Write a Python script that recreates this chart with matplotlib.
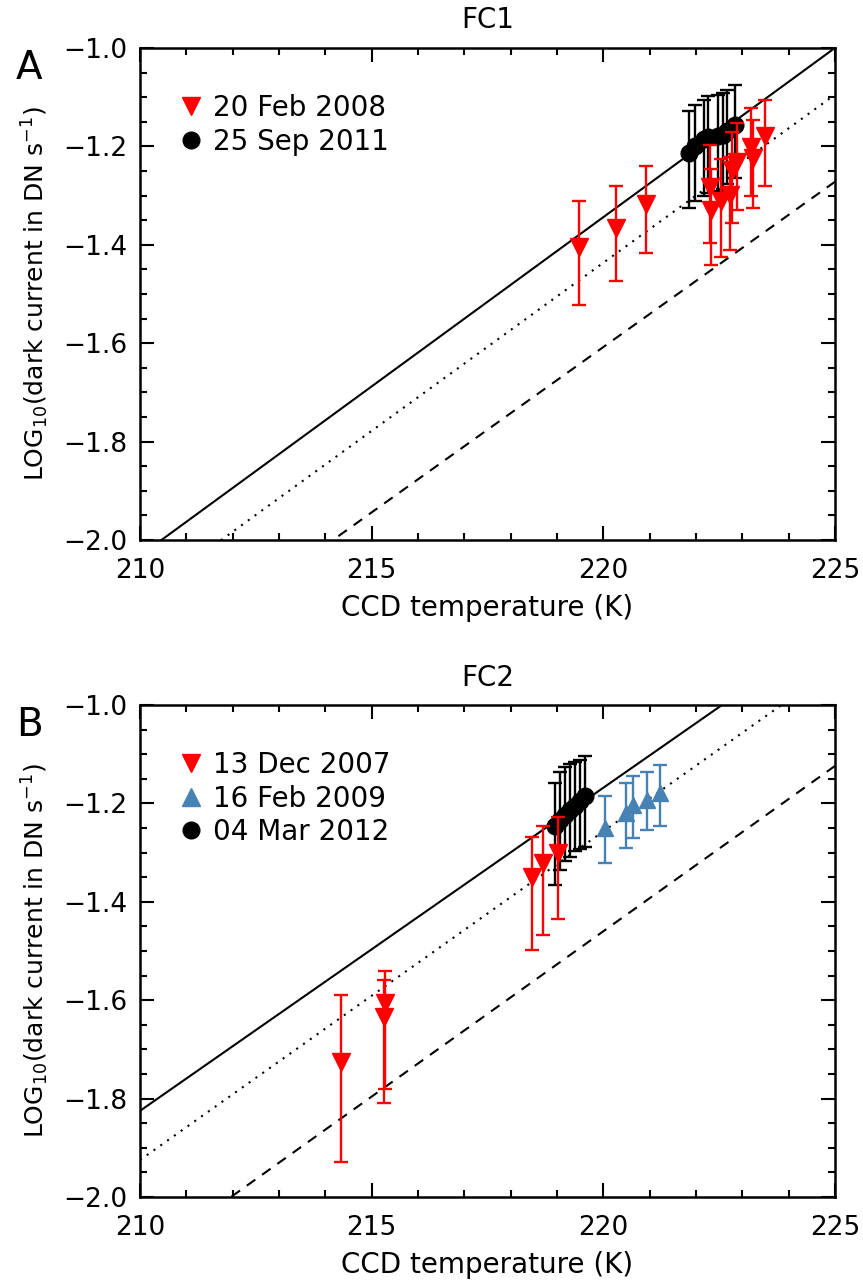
import matplotlib
matplotlib.use("Agg")
import matplotlib.pyplot as plt
from matplotlib.lines import Line2D
from matplotlib.ticker import MultipleLocator, FuncFormatter

plt.rcParams['font.family'] = ['DejaVu Sans']
plt.rcParams['mathtext.default'] = 'regular'

# ---- FC1 ----
# 20 Feb 2008 (red, down triangles)
fc1_feb08_temp = [219.47, 220.28, 220.93, 222.30, 222.33, 222.55, 222.74, 222.78, 222.89, 223.19, 223.23, 223.48]
fc1_feb08_log = [-1.404, -1.366, -1.317, -1.283, -1.329, -1.312, -1.299, -1.248, -1.231, -1.201, -1.224, -1.180]
fc1_feb08_lo = [0.119, 0.107, 0.100, 0.114, 0.112, 0.113, 0.112, 0.107, 0.098, 0.099, 0.102, 0.100]
fc1_feb08_hi = [0.093, 0.086, 0.077, 0.086, 0.082, 0.086, 0.078, 0.078, 0.079, 0.078, 0.078, 0.074]

# 25 Sep 2011 (black circles)
fc1_sep11_temp = [221.84, 221.98, 222.17, 222.25, 222.48, 222.58, 222.66, 222.85]
fc1_sep11_log = [-1.214, -1.200, -1.185, -1.182, -1.180, -1.176, -1.168, -1.157]
fc1_sep11_lo = [0.112, 0.112, 0.115, 0.112, 0.110, 0.110, 0.108, 0.108]
fc1_sep11_hi = [0.086, 0.085, 0.080, 0.084, 0.085, 0.084, 0.083, 0.082]

# fit lines, value at 210 K and 225 K
fit_temp = [210, 225]
fc1_solid = [-2.032, -1.000]
fc1_dotted = [-2.120, -1.095]
fc1_dashed = [-2.280, -1.272]

# ---- FC2 ----
# 13 Dec 2007 (red)
fc2_dec07_temp = [214.33, 215.26, 215.28, 218.46, 218.69, 219.02]
fc2_dec07_log = [-1.725, -1.634, -1.606, -1.349, -1.322, -1.301]
fc2_dec07_lo = [0.203, 0.176, 0.174, 0.150, 0.145, 0.135]
fc2_dec07_hi = [0.136, 0.075, 0.065, 0.081, 0.075, 0.073]

# 16 Feb 2009 (blue, up triangles)
fc2_feb09_temp = [220.04, 220.50, 220.65, 220.94, 221.23]
fc2_feb09_log = [-1.251, -1.220, -1.203, -1.193, -1.179]
fc2_feb09_lo = [0.071, 0.071, 0.068, 0.062, 0.067]
fc2_feb09_hi = [0.065, 0.061, 0.058, 0.056, 0.057]

# 04 Mar 2012 (black)
fc2_mar12_temp = [218.96, 219.07, 219.18, 219.29, 219.40, 219.50, 219.61]
fc2_mar12_log = [-1.247, -1.234, -1.224, -1.213, -1.205, -1.195, -1.186]
fc2_mar12_lo = [0.119, 0.101, 0.094, 0.097, 0.091, 0.098, 0.103]
fc2_mar12_hi = [0.088, 0.098, 0.097, 0.094, 0.090, 0.083, 0.082]

fc2_solid = [-1.825, -0.840]
fc2_dotted = [-1.925, -0.923]
fc2_dashed = [-2.132, -1.124]

RED = '#ff0000'
BLUE = '#4682b4'


def draw_errs(ax, x, y, lo, hi, marker, color, ms, z):
    ax.errorbar(x, y, yerr=[lo, hi], fmt=marker, color=color, mec=color, mfc=color,
                ms=ms, capsize=5, elinewidth=1.7, capthick=1.7, zorder=z)


def minus_fmt(v, pos):
    return ('%.1f' % v).replace('-', '\u2212')


def setup_axes(ax, title):
    ax.set_xlim(210, 225)
    ax.set_ylim(-2.0, -1.0)
    ax.xaxis.set_major_locator(MultipleLocator(5))
    ax.xaxis.set_minor_locator(MultipleLocator(1))
    ax.yaxis.set_major_locator(MultipleLocator(0.2))
    ax.yaxis.set_minor_locator(MultipleLocator(0.05))
    ax.yaxis.set_major_formatter(FuncFormatter(minus_fmt))
    ax.tick_params(which='both', direction='in', top=True, right=True, width=1.5, labelsize=19)
    ax.tick_params(which='major', length=10, pad=9)
    ax.tick_params(axis='x', which='major', pad=13)
    ax.tick_params(which='minor', length=5)
    for s in ax.spines.values():
        s.set_linewidth(1.8)
    ax.set_xlabel('CCD temperature (K)', fontsize=20, labelpad=7)
    ax.set_ylabel('LOG$_{10}$(dark current in DN s$^{-1}$)', fontsize=18, labelpad=9)
    ax.set_title(title, fontsize=20, pad=14)


def fit_lines(ax, solid, dotted, dashed):
    ax.plot(fit_temp, solid, color='k', lw=1.5, zorder=1)
    ax.plot(fit_temp, dotted, color='k', lw=1.5, ls=(0, (1, 3)), zorder=1)
    ax.plot(fit_temp, dashed, color='k', lw=1.5, ls=(0, (5, 4)), zorder=1)


def add_legend(ax, handles, labels):
    ax.legend(handles, labels, loc='upper left', bbox_to_anchor=(0.041, 0.929),
              frameon=False, fontsize=20, handlelength=0.8, handletextpad=0.4,
              labelspacing=0.2, borderaxespad=0)


fig = plt.figure(figsize=(8.63, 12.85), dpi=100)
axA = fig.add_axes([0.1622, 0.5798, 0.8053, 0.3829])
axB = fig.add_axes([0.1622, 0.0685, 0.8053, 0.3829])

# panel A
fit_lines(axA, fc1_solid, fc1_dotted, fc1_dashed)
draw_errs(axA, fc1_sep11_temp, fc1_sep11_log, fc1_sep11_lo, fc1_sep11_hi, 'o', 'k', 12, 3)
draw_errs(axA, fc1_feb08_temp, fc1_feb08_log, fc1_feb08_lo, fc1_feb08_hi, 'v', RED, 13, 4)
setup_axes(axA, 'FC1')
add_legend(axA, [Line2D([], [], ls='none', marker='v', color=RED, ms=13),
                 Line2D([], [], ls='none', marker='o', color='k', ms=12)],
           ['20 Feb 2008', '25 Sep 2011'])

# panel B
fit_lines(axB, fc2_solid, fc2_dotted, fc2_dashed)
draw_errs(axB, fc2_mar12_temp, fc2_mar12_log, fc2_mar12_lo, fc2_mar12_hi, 'o', 'k', 12, 3)
draw_errs(axB, fc2_dec07_temp, fc2_dec07_log, fc2_dec07_lo, fc2_dec07_hi, 'v', RED, 13, 4)
draw_errs(axB, fc2_feb09_temp, fc2_feb09_log, fc2_feb09_lo, fc2_feb09_hi, '^', BLUE, 12, 4)
setup_axes(axB, 'FC2')
add_legend(axB, [Line2D([], [], ls='none', marker='v', color=RED, ms=13),
                 Line2D([], [], ls='none', marker='^', color=BLUE, ms=13),
                 Line2D([], [], ls='none', marker='o', color='k', ms=12)],
           ['13 Dec 2007', '16 Feb 2009', '04 Mar 2012'])

fig.text(0.034, 0.947, 'A', fontsize=28, ha='center', va='center')
fig.text(0.034, 0.436, 'B', fontsize=28, ha='center', va='center')

fig.savefig('out.png', dpi=100)
